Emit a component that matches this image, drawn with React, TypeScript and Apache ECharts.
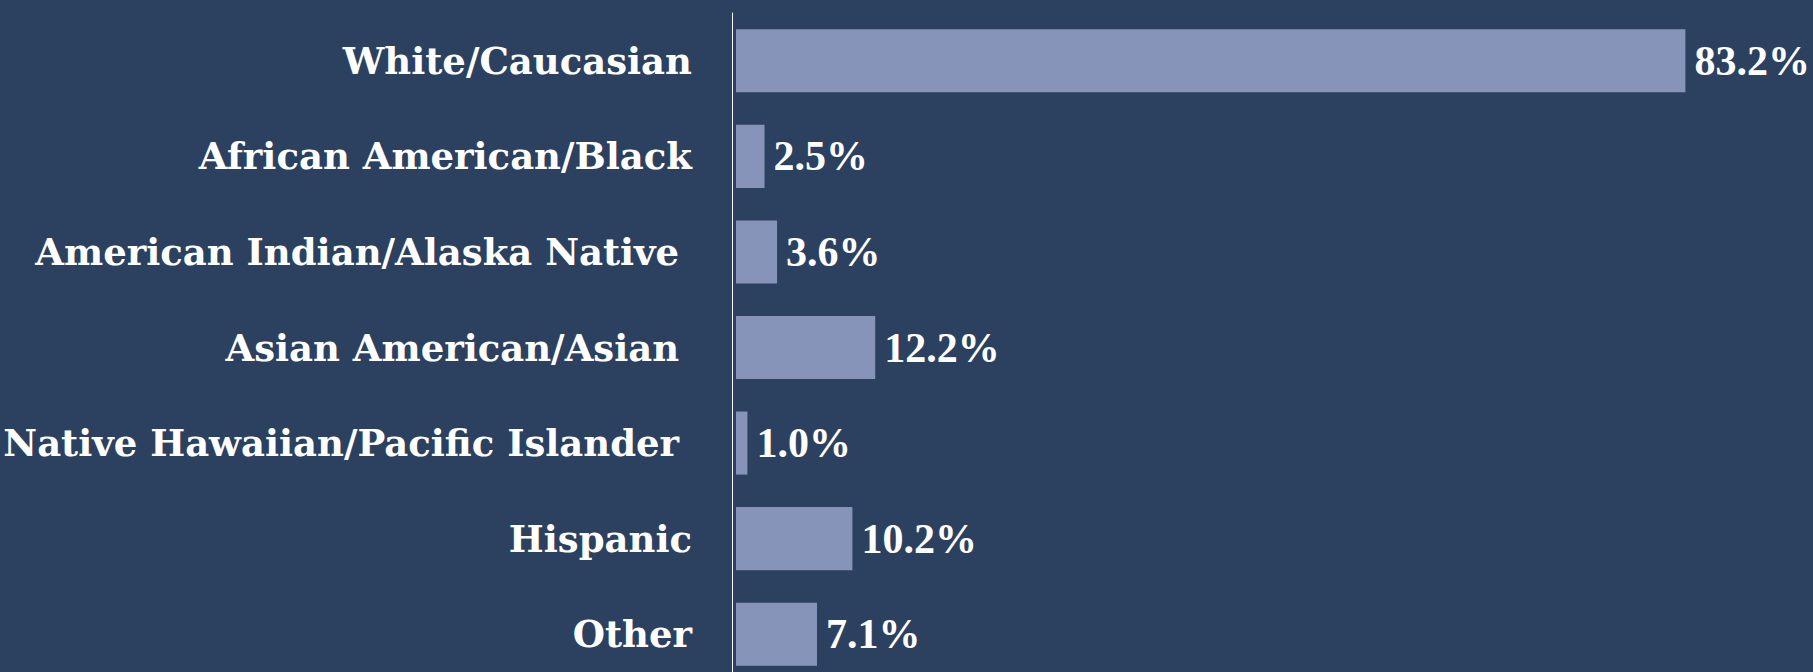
import React, { useEffect, useRef } from "react";
import * as echarts from "echarts";

const categories = [
  "White/Caucasian",
  "African American/Black",
  "American Indian/Alaska Native ",
  "Asian American/Asian ",
  "Native Hawaiian/Pacific Islander ",
  "Hispanic",
  "Other",
];
const values = [83.2, 2.5, 3.6, 12.2, 1.0, 10.2, 7.1];

const BG = "#2C415F";
const BAR = "#8794B9";
const FONT = "'Liberation Serif', 'DejaVu Serif', serif";
const CAT_FONT = "'DejaVu Serif', 'Liberation Serif', serif";

export default function App() {
  const ref = useRef<HTMLDivElement>(null);
  useEffect(() => {
    document.body.style.margin = "0";
    document.body.style.overflow = "hidden";
    document.body.style.background = BG;
    const chart = echarts.init(ref.current!, null, { renderer: "svg" });
    chart.setOption({
      animation: false,
      backgroundColor: BG,
      grid: { left: 736, top: 13, right: 50, bottom: 8 },
      xAxis: {
        type: "value",
        min: 0,
        max: 90,
        show: false,
      },
      yAxis: {
        type: "category",
        data: categories,
        inverse: true,
        offset: 4,
        axisLine: { show: true, onZero: false, lineStyle: { color: "#FFFFFF", width: 1 } },
        axisTick: { show: false },
        axisLabel: {
          margin: 40,
          color: "#FFFFFF",
          fontFamily: CAT_FONT,
          fontWeight: "bold",
          fontSize: 37,
        },
      },
      series: [
        {
          type: "bar",
          data: values,
          barCategoryGap: "34%",
          itemStyle: { color: BAR },
          label: {
            show: true,
            position: "right",
            distance: 9,
            color: "#FFFFFF",
            fontFamily: FONT,
            fontWeight: "bold",
            fontSize: 42,
            formatter: (p: any) => p.value.toFixed(1) + "%",
          },
        },
      ],
    });
    return () => chart.dispose();
  }, []);
  return <div ref={ref} style={{ width: 1813, height: 690, background: BG }} />;
}
